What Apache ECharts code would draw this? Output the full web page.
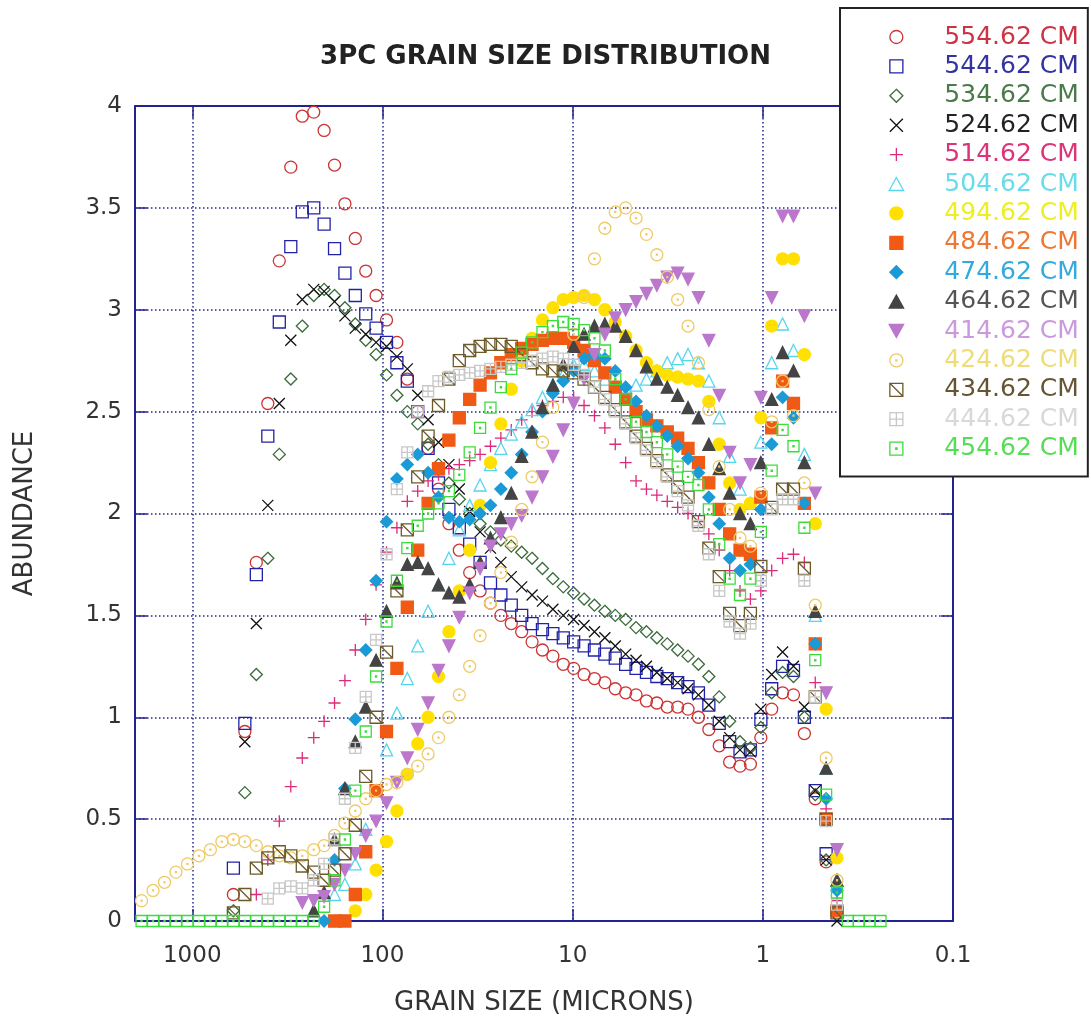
<!DOCTYPE html>
<html><head><meta charset="utf-8">
<script src="https://cdn.jsdelivr.net/npm/echarts@6/dist/echarts.min.js"></script>
<style>html,body{margin:0;padding:0;background:#fff}#c{width:1091px;height:1023px}</style>
</head><body><div id="c"></div>
<script>
const N = null;
// grain size bins (microns)
const grainSize = [
1848,1608,1399,1218,1060,922.2,802.6,698.5,607.8,529.0,
460.3,400.6,348.6,303.3,263.9,229.7,202.6,178.6,157.5,138.9,
122.4,108.0,95.17,83.92,73.99,65.24,57.53,50.72,44.72,39.43,
34.77,30.66,27.03,23.84,21.02,18.53,16.34,14.41,12.70,11.20,
9.875,8.707,7.677,6.769,5.968,5.262,4.640,4.091,3.607,3.180,
2.804,2.473,2.180,1.922,1.695,1.494,1.318,1.162,1.024,0.8981,
0.7870,0.6899,0.6046,0.5300,0.4646,0.4074,0.3571,0.3130,0.2744,0.2405];

const seriesNames = ['554.62 CM','544.62 CM','534.62 CM','524.62 CM','514.62 CM','504.62 CM','494.62 CM','484.62 CM','474.62 CM','464.62 CM','414.62 CM','424.62 CM','434.62 CM','444.62 CM','454.62 CM'];

const s554 = [N,N,N,N,N,N,N,N,0.13,0.93,
1.76,2.54,3.24,3.70,3.95,3.97,3.88,3.71,3.52,3.35,
3.19,3.07,2.95,2.84,2.66,2.50,2.32,2.12,1.95,1.82,
1.71,1.62,1.56,1.50,1.46,1.42,1.37,1.33,1.30,1.26,
1.24,1.21,1.19,1.17,1.14,1.12,1.11,1.08,1.07,1.05,
1.05,1.04,1.00,0.94,0.86,0.78,0.76,0.77,0.90,1.04,
1.12,1.11,0.92,0.60,0.29,N,N,N,N,N];
const s544 = [N,N,N,N,N,N,N,N,0.26,0.97,
1.70,2.38,2.94,3.31,3.48,3.50,3.42,3.30,3.18,3.07,
2.98,2.91,2.84,2.74,2.65,2.50,2.32,2.15,2.02,1.93,
1.85,1.76,1.66,1.60,1.55,1.50,1.46,1.43,1.41,1.39,
1.37,1.35,1.33,1.31,1.29,1.26,1.24,1.22,1.20,1.19,
1.17,1.15,1.12,1.06,0.97,0.88,0.83,0.84,0.99,1.14,
1.25,1.23,1.00,0.64,0.33,N,N,N,N,N];
const s534 = [N,N,N,N,N,N,N,N,0.05,0.63,
1.21,1.78,2.29,2.66,2.92,3.07,3.10,3.07,3.01,2.93,
2.85,2.78,2.68,2.58,2.50,2.44,2.34,2.24,2.15,2.07,
2.00,1.95,1.91,1.87,1.84,1.81,1.78,1.73,1.68,1.64,
1.61,1.58,1.55,1.52,1.50,1.48,1.44,1.42,1.39,1.36,
1.33,1.30,1.26,1.20,1.10,0.98,0.88,0.85,0.95,1.12,
1.22,1.20,1.00,0.62,0.30,N,N,N,N,N];
const s524 = [N,N,N,N,N,N,N,N,N,0.88,
1.46,2.04,2.54,2.85,3.05,3.10,3.09,3.04,2.97,2.91,
2.88,2.84,2.82,2.77,2.71,2.58,2.46,2.35,2.24,2.12,
2.01,1.91,1.83,1.76,1.69,1.64,1.60,1.57,1.53,1.50,
1.48,1.45,1.42,1.39,1.35,1.31,1.28,1.25,1.22,1.19,
1.17,1.14,1.11,1.06,0.98,0.90,0.84,0.83,1.04,1.21,
1.32,1.25,1.05,0.64,0.30,0.00,N,N,N,N];
const s514 = [N,N,N,N,N,N,N,N,N,N,
0.13,0.30,0.49,0.66,0.80,0.90,0.98,1.07,1.18,1.33,
1.48,1.65,1.81,1.93,2.06,2.11,2.16,2.19,2.22,2.24,
2.26,2.29,2.33,2.37,2.41,2.46,2.50,2.53,2.55,2.57,
2.57,2.53,2.48,2.42,2.34,2.25,2.16,2.12,2.09,2.06,
2.03,2.00,1.96,1.90,1.82,1.72,1.62,1.58,1.62,1.72,
1.78,1.80,1.76,1.17,0.55,0.10,N,N,N,N];
const s504 = [N,N,N,N,N,N,N,N,N,N,
N,N,N,N,N,N,N,0.13,0.18,0.28,
0.45,0.64,0.84,1.02,1.19,1.35,1.52,1.65,1.78,1.92,
2.04,2.14,2.24,2.32,2.39,2.45,2.51,2.57,2.63,2.68,
2.73,2.73,2.70,2.66,2.63,2.62,2.63,2.66,2.70,2.74,
2.76,2.78,2.74,2.65,2.47,2.28,2.12,2.05,2.35,2.74,
2.93,2.80,2.29,1.50,0.75,0.20,N,N,N,N];
const s494 = [N,N,N,N,N,N,N,N,N,N,
N,N,N,N,N,N,N,N,N,0.05,
0.13,0.25,0.39,0.54,0.72,0.87,1.00,1.20,1.42,1.62,
1.82,2.04,2.25,2.44,2.61,2.75,2.86,2.95,3.01,3.05,
3.06,3.07,3.05,3.00,2.94,2.87,2.80,2.74,2.70,2.68,
2.67,2.66,2.65,2.55,2.34,2.15,2.02,2.05,2.47,2.92,
3.25,3.25,2.78,1.95,1.04,0.31,N,N,N,N];
const s484 = [N,N,N,N,N,N,N,N,N,N,
N,N,N,N,N,N,N,0.00,0.00,0.13,
0.34,0.64,0.93,1.24,1.54,1.82,2.05,2.22,2.36,2.47,
2.56,2.63,2.69,2.74,2.78,2.81,2.83,2.85,2.86,2.86,
2.84,2.80,2.75,2.69,2.62,2.56,2.50,2.46,2.43,2.40,
2.37,2.32,2.25,2.15,2.02,1.90,1.82,1.80,2.08,2.42,
2.65,2.54,2.05,1.36,0.50,0.05,N,N,N,N];
const s474 = [N,N,N,N,N,N,N,N,N,N,
N,N,N,N,N,N,0.00,0.30,0.65,0.99,
1.33,1.67,1.96,2.17,2.24,2.29,2.20,2.08,1.98,1.96,
1.97,2.00,2.04,2.12,2.20,2.29,2.40,2.50,2.59,2.65,
2.70,2.76,2.78,2.76,2.70,2.62,2.55,2.48,2.43,2.38,
2.33,2.27,2.20,2.08,1.95,1.78,1.72,1.75,2.02,2.34,
2.57,2.47,2.05,1.36,0.60,0.15,N,N,N,N];
const s464 = [N,N,N,N,N,N,N,N,N,N,
N,N,N,N,N,0.05,0.14,0.40,0.65,0.88,
1.05,1.28,1.52,1.66,1.75,1.76,1.73,1.65,1.61,1.59,
1.65,1.76,1.88,1.98,2.10,2.28,2.40,2.52,2.63,2.73,
2.82,2.88,2.92,2.93,2.92,2.87,2.80,2.72,2.66,2.62,
2.58,2.52,2.47,2.34,2.22,2.10,2.00,1.95,2.25,2.56,
2.79,2.70,2.25,1.52,0.75,0.20,N,N,N,N];
const s414 = [N,N,N,N,N,N,N,N,N,N,
N,N,N,N,0.09,0.10,0.12,0.18,0.25,0.33,
0.42,0.49,0.58,0.68,0.80,0.94,1.07,1.23,1.35,1.49,
1.61,1.73,1.84,1.90,1.95,1.99,2.08,2.18,2.28,2.41,
2.54,2.66,2.78,2.88,2.96,3.00,3.04,3.08,3.12,3.16,
3.18,3.15,3.06,2.85,2.58,2.30,2.15,2.24,2.57,3.06,
3.46,3.46,2.97,2.10,1.12,0.35,N,N,N,N];
const s424 = [0.10,0.15,0.19,0.24,0.28,0.32,0.35,0.39,0.40,0.39,
0.37,0.34,0.32,0.31,0.32,0.35,0.37,0.42,0.48,0.54,
0.60,0.64,0.67,0.68,0.72,0.76,0.82,0.90,1.00,1.11,
1.25,1.40,1.56,1.71,1.86,2.02,2.18,2.35,2.52,2.70,
2.88,3.06,3.25,3.40,3.48,3.50,3.45,3.37,3.27,3.16,
3.05,2.92,2.74,2.51,2.23,2.02,1.88,1.84,2.10,2.45,
2.65,2.48,2.15,1.55,0.80,0.20,N,N,N,N];
const s434 = [N,N,N,N,N,N,N,N,0.04,0.13,
0.26,0.31,0.34,0.32,0.27,0.24,0.20,0.25,0.33,0.47,
0.71,1.00,1.32,1.62,1.92,2.18,2.38,2.53,2.66,2.75,
2.80,2.82,2.83,2.83,2.82,2.78,2.74,2.71,2.70,2.70,
2.69,2.66,2.62,2.57,2.51,2.45,2.38,2.32,2.26,2.19,
2.13,2.08,1.96,1.83,1.69,1.51,1.45,1.51,1.74,2.03,
2.12,2.12,1.73,1.10,0.50,0.04,N,N,N,N];
const s444 = [N,N,N,N,N,N,N,N,N,N,
N,0.11,0.16,0.17,0.16,0.20,0.28,0.40,0.60,0.85,
1.10,1.38,1.80,2.12,2.30,2.50,2.60,2.65,2.67,2.68,
2.69,2.70,2.71,2.72,2.73,2.74,2.75,2.76,2.77,2.76,
2.73,2.68,2.62,2.56,2.50,2.44,2.37,2.31,2.25,2.18,
2.11,2.04,1.94,1.80,1.62,1.47,1.41,1.46,1.67,2.02,
2.07,2.07,1.67,1.10,0.49,0.08,N,N,N,N];
const s454 = [0,0,0,0,0,0,0,0,0,0,
0,0,0,0,0,0,0.07,0.20,0.40,0.64,
0.93,1.20,1.47,1.67,1.83,1.94,2.00,2.05,2.11,2.19,
2.30,2.42,2.52,2.62,2.71,2.79,2.84,2.89,2.92,2.94,
2.93,2.90,2.86,2.80,2.66,2.56,2.45,2.40,2.35,2.29,
2.23,2.18,2.14,2.02,1.85,1.68,1.60,1.68,1.91,2.21,
2.41,2.33,1.93,1.28,0.62,0.14,0,0,0,0];

const xTickValues = [1000, 100, 10, 1, 0.1];
const xTickLabels = ['1000', '100', '10', '1', '0.1'];

const allSeries = [s554,s544,s534,s524,s514,s504,s494,s484,s474,s464,s414,s424,s434,s444,s454];

// marker styles (paths keep their aspect in the legend)
const CLEAR = 'rgba(0,0,0,0)';
const SQ = 'path://M0,0H10V10H0Z';
const DIA = 'path://M5,0L10,5L5,10L0,5Z';
const TRI = 'path://M5,0L10,9L0,9Z';
const markers = [
  {symbol:'circle', size:12, fill:CLEAR, stroke:'#cc3333', text:'#cc3344'},
  {symbol:SQ, size:12, fill:CLEAR, stroke:'#2222a6', text:'#3333a0'},
  {symbol:DIA, size:12, fill:CLEAR, stroke:'#3a6b3a', text:'#4a7a4a'},
  {symbol:'path://M0,0L10,10M10,0L0,10', size:11, fill:CLEAR, stroke:'#111111', text:'#222222'},
  {symbol:'path://M5,0V10M0,5H10', size:12, fill:CLEAR, stroke:'#dd2a7a', text:'#dd3377'},
  {symbol:TRI, size:12, fill:CLEAR, stroke:'#55d5ee', text:'#66dde8'},
  {symbol:'circle', size:12, fill:'#ffe000', stroke:'#ffe000', text:'#eeee22'},
  {symbol:SQ, size:12, fill:'#f05a14', stroke:'#f05a14', text:'#ee7733'},
  {symbol:DIA, size:12, fill:'#1a9ad6', stroke:'#1a9ad6', text:'#33aadd'},
  {symbol:TRI, size:12, fill:'#444444', stroke:'#444444', text:'#555555'},
  {symbol:'path://M0,0L10,0L5,9Z', size:12, fill:'#bb77cc', stroke:'#bb77cc', text:'#cc99dd'},
  {symbol:'path://M0,5A5,5,0,1,1,10,5A5,5,0,1,1,0,5Z M4.6,4.6H5.4V5.4H4.6Z', size:12, fill:CLEAR, stroke:'#efcb66', text:'#eedd77'},
  {symbol:'path://M0,0H10V10H0Z M0,0L10,10', size:12, fill:CLEAR, stroke:'#6b5a2a', text:'#665533'},
  {symbol:'path://M0,0H10V10H0Z M5,0V10 M0,5H10', size:11, fill:CLEAR, stroke:'#c8c8c8', text:'#d8d8d8'},
  {symbol:'path://M0,0H10V10H0Z M4.5,4.5H5.5V5.5H4.5Z', size:11, fill:CLEAR, stroke:'#3ddc3d', text:'#55dd55'}
];

function toPoints(vals) {
  const out = [];
  vals.forEach((v, i) => { if (v !== null) out.push([grainSize[i], v]); });
  return out;
}
function fmtX(v) {
  const k = xTickValues.findIndex(t => Math.abs(Math.log10(v) - Math.log10(t)) < 1e-6);
  return k >= 0 ? xTickLabels[k] : '';
}

const navy = '#23238f';
const FONT = 'DejaVu Sans';
const chart = echarts.init(document.getElementById('c'), null, {renderer: 'canvas'});
const option = {
  animation: false,
  backgroundColor: '#ffffff',
  title: {
    text: '3PC GRAIN SIZE DISTRIBUTION', left: 'center', top: 39,
    textStyle: {fontFamily: FONT, fontWeight: 'bold', fontSize: 26, color: '#222222'}
  },
  grid: {left: 135, right: 138, top: 106, bottom: 102, containLabel: false, outerBoundsMode: 'none'},
  legend: {
    orient: 'vertical', left: 840, top: 8,
    padding: [16, 9, 15, 48.5],
    itemWidth: 86, itemHeight: 13, itemGap: 3.4,
    symbolKeepAspect: true,
    backgroundColor: '#ffffff', borderColor: '#222222', borderWidth: 2, borderRadius: 0,
    textStyle: {fontSize: 25, fontFamily: FONT, lineHeight: 26},
    itemStyle: {borderWidth: 1.3},
    selectedMode: false,
    data: seriesNames.map((n, i) => ({name: n, textStyle: {color: markers[i].text}}))
  },
  xAxis: [
    {
      type: 'log', logBase: 10, min: 0.1, max: 2000, inverse: true, position: 'bottom',
      axisLine: {show: true, onZero: false, lineStyle: {color: navy, width: 2}},
      axisTick: {show: true, inside: true, length: 12, lineStyle: {color: navy, width: 1.5}},
      axisLabel: {show: true, margin: 24, fontSize: 23, fontFamily: FONT, color: '#333333', formatter: fmtX},
      splitLine: {show: true, lineStyle: {color: navy, width: 1.5, type: [1.5, 2.5]}},
      minorTick: {show: false}, minorSplitLine: {show: false},
      name: 'GRAIN SIZE (MICRONS)', nameLocation: 'middle', nameGap: 69,
      nameTextStyle: {fontSize: 26, fontFamily: FONT, color: '#333333'}
    },
    {
      type: 'log', logBase: 10, min: 0.1, max: 2000, inverse: true, position: 'top',
      axisLine: {show: true, onZero: false, lineStyle: {color: navy, width: 2}},
      axisTick: {show: true, inside: true, length: 12, lineStyle: {color: navy, width: 1.5}},
      axisLabel: {show: false}, splitLine: {show: false}
    }
  ],
  yAxis: [
    {
      type: 'value', min: 0, max: 4, interval: 0.5, position: 'left',
      axisLine: {show: true, onZero: false, lineStyle: {color: navy, width: 2}},
      axisTick: {show: true, inside: true, length: 12, lineStyle: {color: navy, width: 1.5}},
      axisLabel: {show: true, margin: 13, fontSize: 23, fontFamily: FONT, color: '#333333'},
      splitLine: {show: true, lineStyle: {color: navy, width: 1.5, type: [1.5, 2.5]}},
      name: 'ABUNDANCE', nameLocation: 'middle', nameRotate: 90, nameGap: 97,
      nameTextStyle: {fontSize: 26, fontFamily: FONT, color: '#333333'}
    },
    {
      type: 'value', min: 0, max: 4, interval: 0.5, position: 'right',
      axisLine: {show: true, onZero: false, lineStyle: {color: navy, width: 2}},
      axisTick: {show: true, inside: true, length: 12, lineStyle: {color: navy, width: 1.5}},
      axisLabel: {show: false}, splitLine: {show: false}
    }
  ],
  series: seriesNames.map((n, i) => ({
    type: 'scatter', name: n, xAxisIndex: 0, yAxisIndex: 0,
    data: toPoints(allSeries[i]),
    symbol: markers[i].symbol, symbolSize: markers[i].size,
    clip: false,
    itemStyle: {color: markers[i].fill, borderColor: markers[i].stroke, borderWidth: 1.3, opacity: 1},
    emphasis: {disabled: true}
  }))
};
chart.setOption(option);
</script>
</body></html>
